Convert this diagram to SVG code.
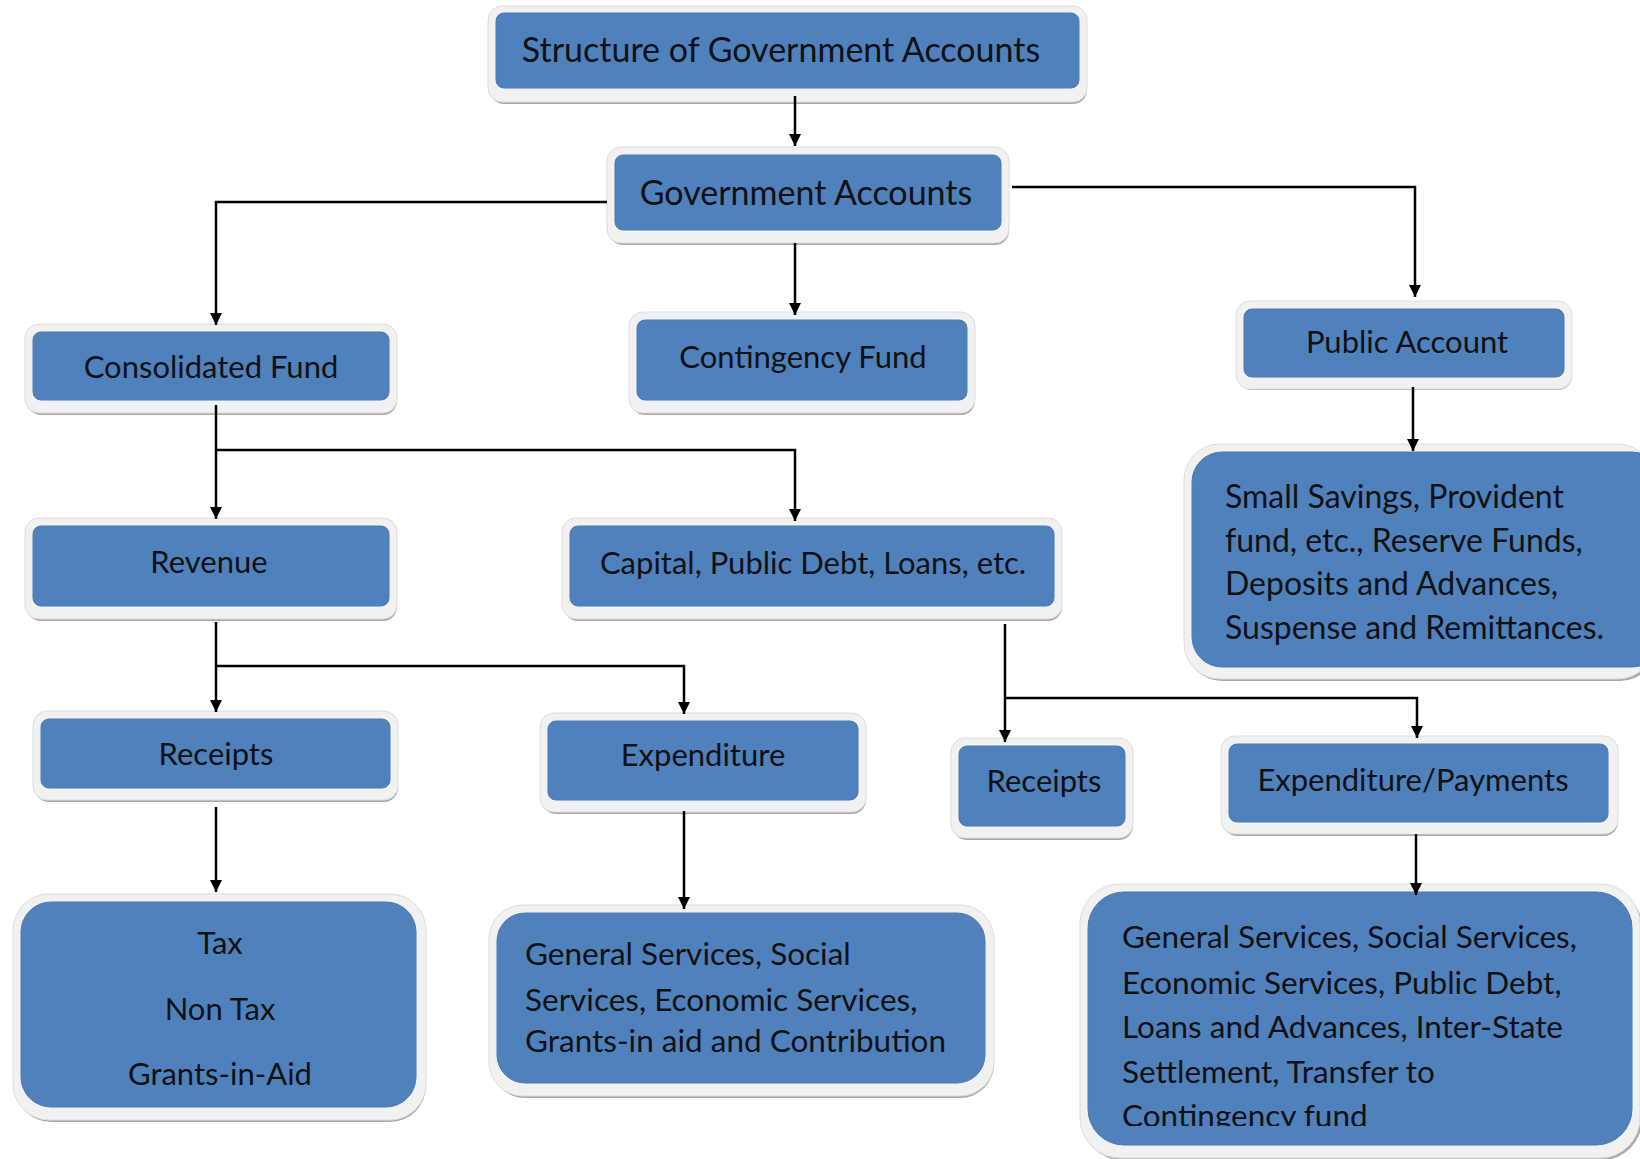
<svg xmlns="http://www.w3.org/2000/svg" width="1640" height="1159" viewBox="0 0 1640 1159">
<defs>
<style>
.sh{fill:#a9a9a9}
.fr{fill:#f1f1f1;stroke:#dcdcdc;stroke-width:1}
.bl{fill:#4f81bd;stroke:#4a7ab3;stroke-width:1}
.t{font-family:Lato,"Open Sans",sans-serif;font-size:31px;fill:#111;dominant-baseline:central}
.c{text-anchor:middle}
.m{font-size:32px}
.b{font-size:34px}
.w{font-size:31.5px}
.cn{fill:none;stroke:#000;stroke-width:2.5;marker-end:url(#ah)}
</style>
<marker id="ah" markerUnits="userSpaceOnUse" markerWidth="12" markerHeight="12" refX="10" refY="5" orient="auto" viewBox="0 0 10 10">
<path d="M0,0 L10,5 L0,10 z" fill="#000"/>
</marker>
<clipPath id="bigclip"><rect x="1088" y="892" width="552" height="234"/></clipPath>
</defs>

<g id="title">
<rect class="sh" x="490" y="8" width="597" height="96" rx="14"/>
<rect class="fr" x="488" y="6" width="599" height="96" rx="14"/>
<rect class="bl" x="496" y="13" width="583" height="75" rx="8"/>
<text class="t c b" x="781" y="48">Structure of Government Accounts</text>
</g>

<g id="gov">
<rect class="sh" x="609" y="150" width="400" height="95" rx="14"/>
<rect class="fr" x="607" y="147" width="402" height="96" rx="14"/>
<rect class="bl" x="615" y="155" width="386" height="75" rx="8"/>
<text class="t c b" x="806" y="191">Government Accounts</text>
</g>

<g id="consolidated">
<rect class="sh" x="27" y="327" width="370" height="88" rx="14"/>
<rect class="fr" x="25" y="324" width="372" height="89" rx="14"/>
<rect class="bl" x="33" y="332" width="356" height="68" rx="8"/>
<text class="t c" x="211" y="366">Consolidated Fund</text>
</g>

<g id="contingency">
<rect class="sh" x="631" y="315" width="344" height="100" rx="14"/>
<rect class="fr" x="629" y="312" width="346" height="101" rx="14"/>
<rect class="bl" x="637" y="320" width="330" height="80" rx="8"/>
<text class="t c" x="803" y="356">Contingency Fund</text>
</g>

<g id="public">
<rect class="sh" x="1238" y="304" width="334" height="86" rx="14"/>
<rect class="fr" x="1236" y="301" width="336" height="88" rx="14"/>
<rect class="bl" x="1244" y="309" width="320" height="68" rx="8"/>
<text class="t c" x="1407" y="341">Public Account</text>
</g>

<g id="smallsavings">
<rect class="sh" x="1186" y="447" width="470" height="234" rx="36"/>
<rect class="fr" x="1184" y="444" width="470" height="235" rx="36"/>
<rect class="bl" x="1192" y="452" width="470" height="215" rx="30"/>
<text class="t m" x="1225" y="495">Small Savings, Provident</text>
<text class="t m" x="1225" y="539">fund, etc., Reserve Funds,</text>
<text class="t m" x="1225" y="582">Deposits and Advances,</text>
<text class="t m" x="1225" y="626">Suspense and Remittances.</text>
</g>

<g id="revenue">
<rect class="sh" x="27" y="521" width="370" height="100" rx="14"/>
<rect class="fr" x="25" y="518" width="372" height="101" rx="14"/>
<rect class="bl" x="33" y="526" width="356" height="80" rx="8"/>
<text class="t c" x="209" y="561">Revenue</text>
</g>

<g id="capital">
<rect class="sh" x="564" y="521" width="498" height="100" rx="14"/>
<rect class="fr" x="562" y="518" width="500" height="101" rx="14"/>
<rect class="bl" x="570" y="526" width="484" height="80" rx="8"/>
<text class="t c" x="813" y="562">Capital, Public Debt, Loans, etc.</text>
</g>

<g id="receipts1">
<rect class="sh" x="35" y="714" width="363" height="88" rx="14"/>
<rect class="fr" x="33" y="711" width="365" height="89" rx="14"/>
<rect class="bl" x="41" y="719" width="349" height="69" rx="8"/>
<text class="t c" x="216" y="753">Receipts</text>
</g>

<g id="expenditure">
<rect class="sh" x="542" y="716" width="324" height="98" rx="14"/>
<rect class="fr" x="540" y="713" width="326" height="99" rx="14"/>
<rect class="bl" x="548" y="721" width="310" height="79" rx="8"/>
<text class="t c" x="703" y="754">Expenditure</text>
</g>

<g id="receipts2">
<rect class="sh" x="953" y="741" width="180" height="99" rx="14"/>
<rect class="fr" x="951" y="738" width="182" height="100" rx="14"/>
<rect class="bl" x="959" y="746" width="166" height="80" rx="8"/>
<text class="t c" x="1044" y="780">Receipts</text>
</g>

<g id="exppayments">
<rect class="sh" x="1223" y="739" width="395" height="97" rx="14"/>
<rect class="fr" x="1221" y="736" width="397" height="98" rx="14"/>
<rect class="bl" x="1229" y="744" width="379" height="78" rx="8"/>
<text class="t c" x="1413" y="779">Expenditure/Payments</text>
</g>

<g id="tax">
<rect class="sh" x="15" y="897" width="411" height="225" rx="36"/>
<rect class="fr" x="13" y="894" width="413" height="226" rx="36"/>
<rect class="bl" x="21" y="902" width="395" height="205" rx="30"/>
<text class="t c" x="220" y="942">Tax</text>
<text class="t c" x="220" y="1008">Non Tax</text>
<text class="t c" x="220" y="1073">Grants-in-Aid</text>
</g>

<g id="genservices">
<rect class="sh" x="491" y="908" width="503" height="190" rx="34"/>
<rect class="fr" x="489" y="905" width="505" height="191" rx="34"/>
<rect class="bl" x="497" y="913" width="488" height="170" rx="28"/>
<text class="t w" x="525" y="953">General Services, Social</text>
<text class="t w" x="525" y="999">Services, Economic Services,</text>
<text class="t w" x="525" y="1040">Grants-in aid and Contribution</text>
</g>

<g id="bigbox">
<rect class="sh" x="1082" y="887" width="560" height="273" rx="40"/>
<rect class="fr" x="1080" y="884" width="560" height="274" rx="40"/>
<rect class="bl" x="1088" y="892" width="544" height="253" rx="36"/>
<g clip-path="url(#bigclip)">
<text class="t w" x="1122" y="936">General Services, Social Services,</text>
<text class="t w" x="1122" y="982">Economic Services, Public Debt,</text>
<text class="t w" x="1122" y="1026">Loans and Advances, Inter-State</text>
<text class="t w" x="1122" y="1071">Settlement, Transfer to</text>
<text class="t w" x="1122" y="1115">Contingency fund</text>
</g>
</g>

<g id="connectors">
<path class="cn" d="M795,96 V146"/>
<path class="cn" d="M607,202 H216 V325"/>
<path class="cn" d="M1012,187 H1415 V297"/>
<path class="cn" d="M795,243 V315"/>
<path class="cn" d="M1413,387 V451"/>
<path class="cn" d="M216,405 V519"/>
<path class="cn" d="M216,450 H795 V521"/>
<path class="cn" d="M216,622 V712"/>
<path class="cn" d="M216,666 H684 V714"/>
<path class="cn" d="M1005,624 V742"/>
<path class="cn" d="M1005,698 H1417 V738"/>
<path class="cn" d="M216,807 V892"/>
<path class="cn" d="M684,811 V909"/>
<path class="cn" d="M1416,834 V895"/>
</g>
</svg>
